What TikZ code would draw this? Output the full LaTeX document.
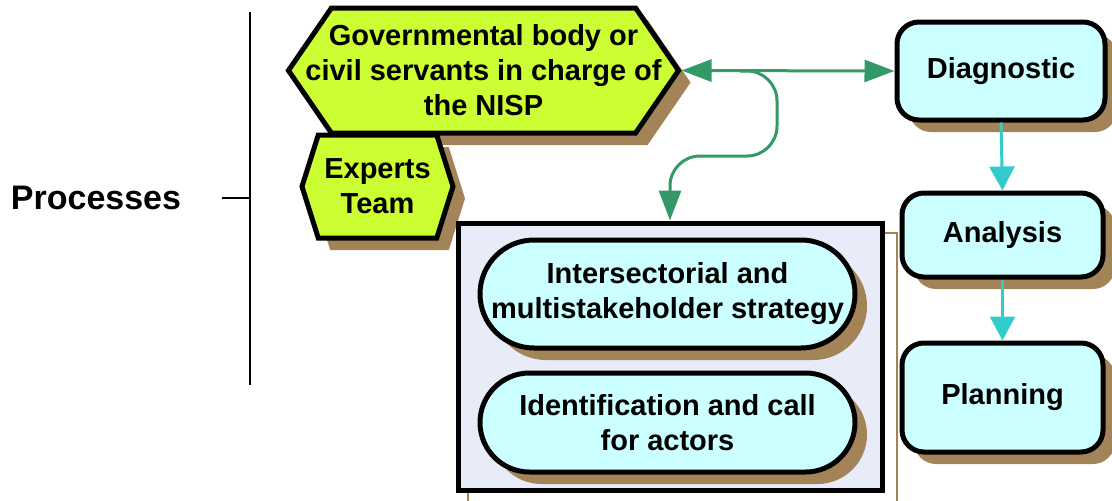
\documentclass[tikz,border=0pt]{standalone}
\usepackage{fontspec}
\setmainfont{Liberation Sans}
\usetikzlibrary{shapes.symbols,shapes.misc,shadows,arrows.meta,backgrounds}
\definecolor{shadowbrown}{RGB}{163,131,88}
\definecolor{actorgreen}{RGB}{204,255,51}
\definecolor{stepcyan}{RGB}{204,255,255}
\definecolor{boxlilac}{RGB}{231,236,248}
\definecolor{linkgreen}{RGB}{51,153,102}
\definecolor{linkcyan}{RGB}{51,204,204}
\begin{document}
\begin{tikzpicture}[x=1pt,y=-1pt,
  txt/.style={font=\bfseries\fontsize{29}{35}\selectfont,align=center},
  brownshadow/.style={drop shadow={shadow xshift=12pt,shadow yshift=-12pt,fill=shadowbrown,opacity=1}},
  actor/.style={signal,signal to=west and east,draw,line width=5pt,fill=actorgreen,inner sep=0pt,txt,brownshadow},
  stage/.style={rectangle,rounded corners=22pt,draw,line width=5pt,fill=stepcyan,inner sep=0pt,txt,brownshadow,minimum width=201pt},
  task/.style={rounded rectangle,draw,line width=5pt,fill=stepcyan,inner sep=0pt,txt,brownshadow,minimum width=375pt},
  greenlink/.style={linkgreen,line width=3pt},
  cyanlink/.style={linkcyan,line width=3pt,-{Triangle[length=24pt,width=25pt]}}]
\useasboundingbox (0,0) rectangle (1112,501);
\node[font=\bfseries\fontsize{34}{40}\selectfont] (proc) at (96,198) {Processes};
\coordinate (btop) at (250,12);
\coordinate (bbot) at (250,385);
\coordinate (tick) at (222,198);
\draw[line width=1.5pt] (btop) -- (bbot);
\draw[line width=1.5pt] (tick) -- (tick -| btop);
\node[actor,signal pointer angle=111,inner xsep=-26pt,minimum height=125pt] (gov) at (483.5,70.5) {Governmental body or\\civil servants in charge of\\the NISP};
\node[actor,signal pointer angle=145,minimum width=151pt,minimum height=103pt] (exp) at (377.5,186.5) {Experts\\Team};
\node[draw,line width=5pt,fill=boxlilac,minimum width=424pt,minimum height=267pt] (frame) at (670,356.5) {};
\begin{scope}[on background layer]
\draw[shadowbrown,line width=2pt] ([shift={(12,12)}]frame.north west) rectangle ([shift={(12,12)}]frame.south east);
\end{scope}
\node[task,minimum height=108pt] (strat) at (667.5,294) {Intersectorial and\\multistakeholder strategy};
\node[task,minimum height=99pt] (ident) at (667.5,422.5) {Identification and call\\for actors};
\node[stage,minimum width=208pt,minimum height=98pt] (diag) at (1001,71) {Diagnostic};
\node[stage,minimum height=84pt] (anal) at (1002.5,235) {Analysis};
\node[stage,minimum height=109pt] (plan) at (1002.5,397.5) {Planning};
\draw[greenlink,{Triangle[length=30pt,width=22pt]}-{Triangle[length=30pt,width=22pt]}] (gov.east) -- (diag.west);
\coordinate (split) at (740,71);
\draw[greenlink,rounded corners=30pt,-{Triangle[length=30pt,width=22pt]}] (split) -| (777,156) -| (frame.north);
\draw[cyanlink] (diag.south) -- (anal.north);
\draw[cyanlink] (anal.south) -- (plan.north);
\end{tikzpicture}
\end{document}
